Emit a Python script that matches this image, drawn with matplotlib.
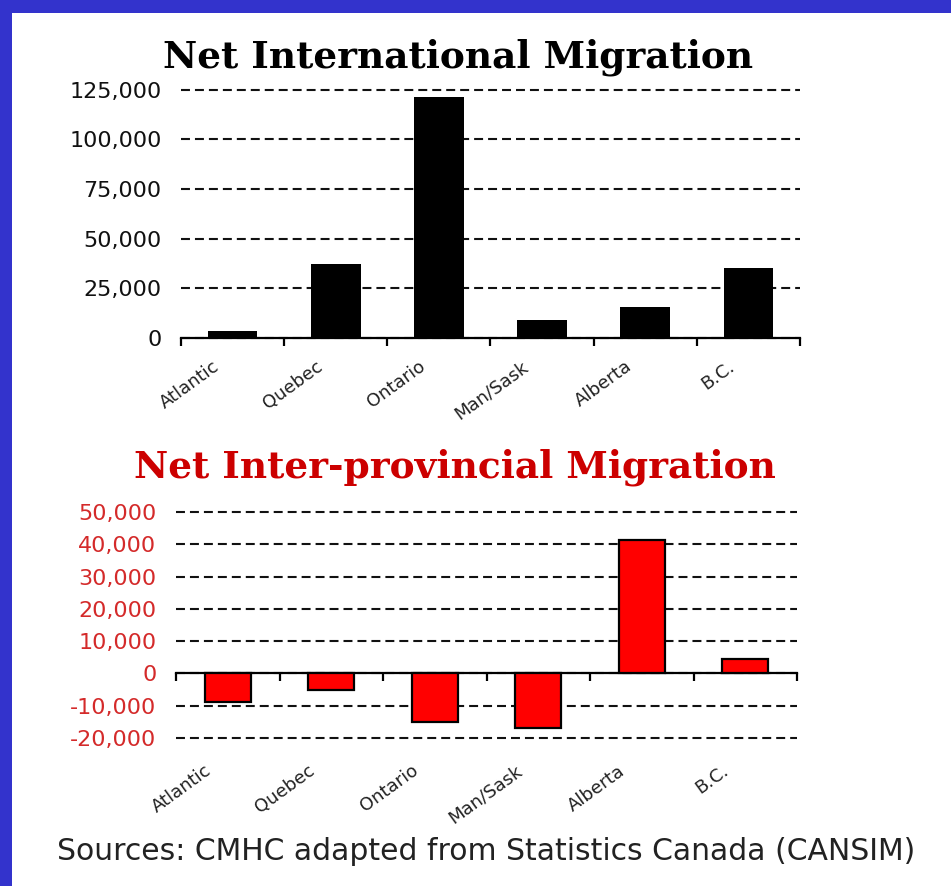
import matplotlib.pyplot as plt
import numpy as np
import matplotlib.transforms as mtransforms
from matplotlib.patches import Rectangle
from matplotlib.ticker import FuncFormatter

# Data
regions = ['Atlantic', 'Quebec', 'Ontario', 'Man/Sask', 'Alberta', 'B.C.']
intl_migration = [3700, 37000, 121000, 9300, 15700, 35000]
interprov_migration = [-8800, -5000, -15000, -16800, 41300, 4400]
intl_ticks = [0, 25000, 50000, 75000, 100000, 125000]
interprov_ticks = [-20000, -10000, 0, 10000, 20000, 30000, 40000, 50000]

W, H = 951, 886
BLUE = '#3333cc'
RED_TITLE = '#cc0000'
RED_TICK = '#d42a2a'
DASH = (0, (4.3, 2.4))

fig = plt.figure(figsize=(W / 100, H / 100), dpi=100)
fig.patch.set_facecolor('white')

# blue slide frame (top and left strips)
fig.patches.append(Rectangle((0, H - 13), W, 13, transform=None,
                             facecolor=BLUE, edgecolor='none', zorder=0))
fig.patches.append(Rectangle((0, 0), 12, H, transform=None,
                             facecolor=BLUE, edgecolor='none', zorder=0))

fmt = FuncFormatter(lambda v, p: f'{int(v):,}')
x = np.arange(len(regions))


def style_axis(ax, ticks, tick_color):
    ax.set_xlim(-0.5, len(regions) - 0.5)
    ax.set_ylim(ticks[0], ticks[-1])
    ax.set_yticks(ticks)
    ax.yaxis.set_major_formatter(fmt)
    ax.tick_params(axis='y', length=0, pad=14, labelsize=16,
                   labelcolor=tick_color)
    ax.grid(axis='y', color='#111111', linestyle=DASH, linewidth=1.5)
    for gl in ax.get_ygridlines():
        gl.set_clip_on(False)
    ax.set_axisbelow(True)
    for s in ['left', 'right', 'top']:
        ax.spines[s].set_visible(False)
    ax.spines['bottom'].set_linewidth(1.6)
    # category boundary ticks
    ax.set_xticks(np.arange(-0.5, len(regions)), minor=True)
    ax.set_xticks(x)
    ax.tick_params(axis='x', which='minor', direction='out', length=6,
                   width=1.6)
    ax.tick_params(axis='x', which='major', length=0)


def shift_labels(labels, dx):
    off = mtransforms.ScaledTranslation(dx / 100, 0, fig.dpi_scale_trans)
    for lab in labels:
        lab.set_transform(lab.get_transform() + off)


# ---- top chart: net international migration
ax1 = fig.add_axes([181 / W, 1 - 338 / H, 619 / W, 248.5 / H])
ax1.bar(x, intl_migration, width=0.48, color='black', zorder=3)
style_axis(ax1, intl_ticks, '#111111')
labs1 = ax1.set_xticklabels(regions, rotation=36, ha='right', va='top',
                            fontsize=13, color='#222222')
ax1.tick_params(axis='x', which='major', pad=14)
shift_labels(labs1, -10)
fig.text(458 / W, 1 - 57 / H, 'Net International Migration',
         family='DejaVu Serif', weight='bold', fontsize=27,
         ha='center', va='center', color='black')

# ---- bottom chart: net inter-provincial migration
ax2 = fig.add_axes([176 / W, 1 - 738 / H, 621 / W, 226 / H])
ax2.bar(x, interprov_migration, width=0.44, color='#ff0000',
        edgecolor='black', linewidth=1.6, zorder=3)
style_axis(ax2, interprov_ticks, RED_TICK)
ax2.spines['bottom'].set_position(('data', 0))
ax2.set_xticklabels([])
sec = ax2.secondary_xaxis('bottom')
sec.set_xticks(x)
labs2 = sec.set_xticklabels(regions, rotation=36, ha='right', va='top',
                            fontsize=13, color='#222222')
sec.tick_params(axis='x', length=0, pad=17)
sec.spines['bottom'].set_visible(False)
shift_labels(labs2, -13)
fig.text(455 / W, 1 - 467 / H, 'Net Inter-provincial Migration',
         family='DejaVu Serif', weight='bold', fontsize=27,
         ha='center', va='center', color=RED_TITLE)

# ---- source note
fig.text(486 / W, 1 - 852 / H,
         'Sources: CMHC adapted from Statistics Canada (CANSIM)',
         fontsize=21.5, ha='center', va='center', color='#222222')

fig.savefig('out.png', dpi=100)
